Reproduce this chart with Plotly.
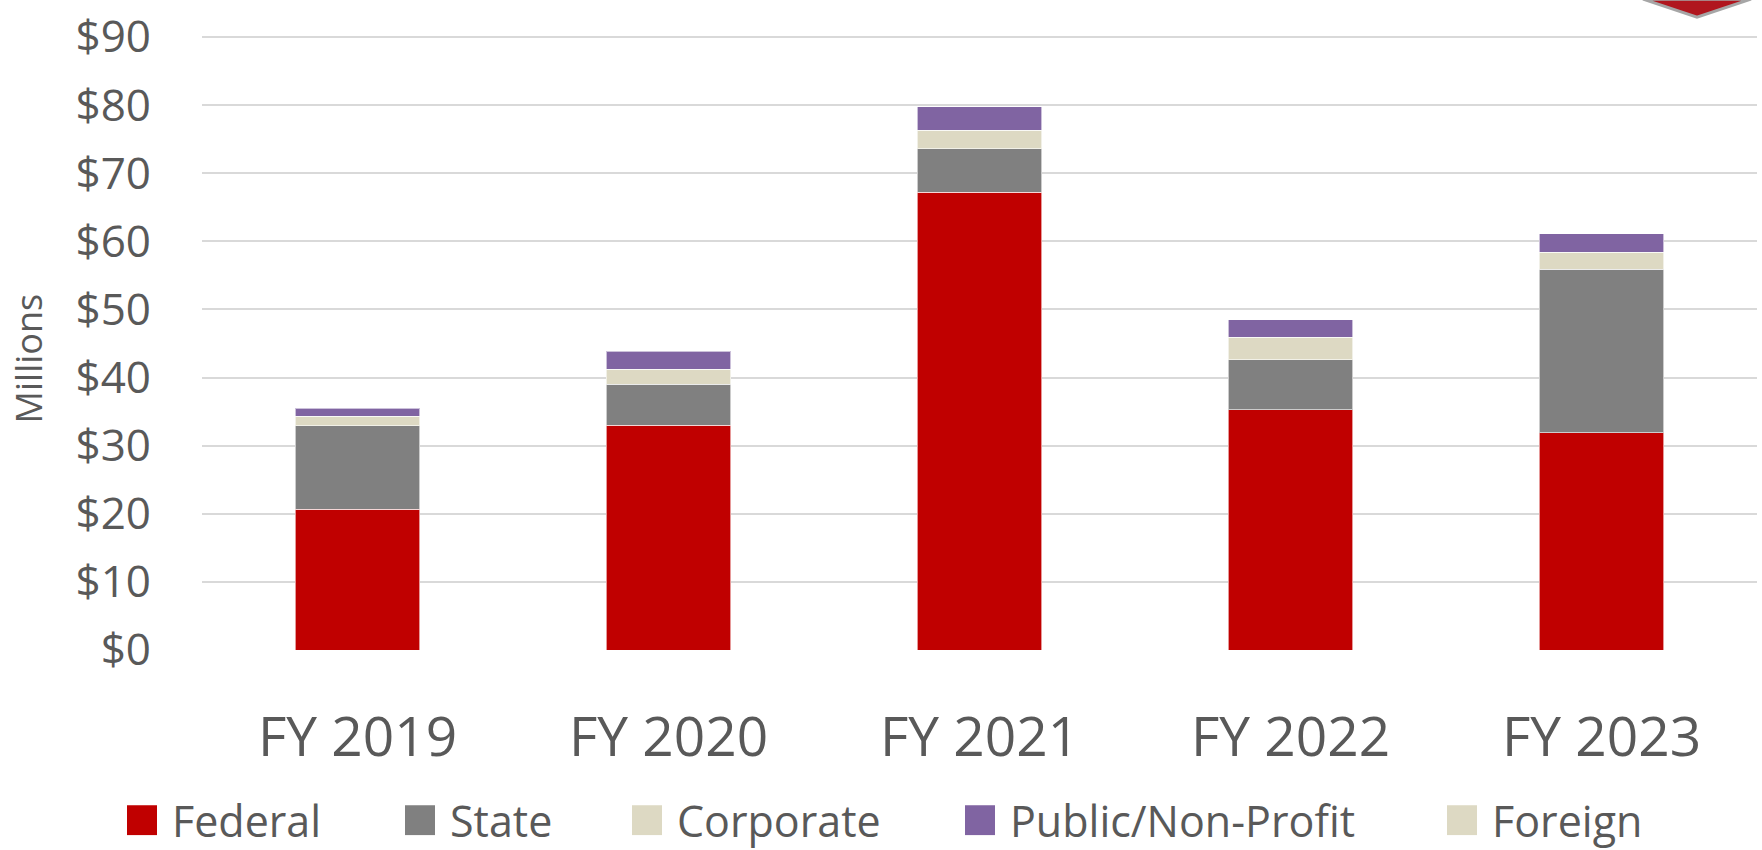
import plotly.graph_objects as go

# data ($ millions)
years = ['FY 2019', 'FY 2020', 'FY 2021', 'FY 2022', 'FY 2023']
federal = [20.7, 33.0, 67.2, 35.3, 31.9]
state = [12.2, 6.0, 6.4, 7.3, 24.0]
corporate = [1.4, 2.2, 2.7, 3.3, 2.5]
public_nonprofit = [1.2, 2.7, 3.5, 2.6, 2.7]
foreign = [0, 0, 0, 0, 0]

series_names = ['Federal', 'State', 'Corporate', 'Public/Non-Profit', 'Foreign']
series_values = [federal, state, corporate, public_nonprofit, foreign]
colors = ['#C00000', '#808080', '#DDD9C3', '#8064A2', '#DDD9C3']
tick_vals = [0, 10, 20, 30, 40, 50, 60, 70, 80, 90]
tick_text = ['$' + str(v) for v in tick_vals]

W, H = 1762, 850
L, R, T, B = 202, 5, 32, 200
TXT = '#595959'
FONT = 'Open Sans'


def px_x(x):
    return (x - L) / (W - L - R)


def px_y(y):
    return (H - B - y) / (H - T - B)


fig = go.Figure()
for name, vals, col in zip(series_names, series_values, colors):
    fig.add_trace(go.Bar(
        x=years, y=vals, name=name, marker_color=col,
        marker_line=dict(color='rgba(255,255,255,0.6)', width=0 if name == 'Foreign' else 1),
        showlegend=False,
    ))

# legend drawn by hand so the swatches can be as big as in the original
legend_x = [127, 405, 632, 965, 1447]
legend_y = 821
for name, col, lx in zip(series_names, colors, legend_x):
    fig.add_shape(type='rect', xref='paper', yref='paper',
                  x0=px_x(lx), x1=px_x(lx + 30), y0=px_y(legend_y + 15), y1=px_y(legend_y - 15),
                  fillcolor=col, line_width=0)
    fig.add_annotation(text=name, xref='paper', yref='paper', x=px_x(lx + 44), y=px_y(legend_y),
                       xanchor='left', yanchor='middle', showarrow=False, borderpad=0,
                       font=dict(family=FONT, size=43, color=TXT))

fig.add_annotation(text='Millions', textangle=-90, xref='paper', yref='paper',
                   x=px_x(28), y=px_y(357), xanchor='center', yanchor='middle', showarrow=False,
                   font=dict(family=FONT, size=36, color=TXT))

# bit of logo peeking in at the top right
fig.add_shape(type='path', xref='paper', yref='paper',
              path='M %f,%f L %f,%f L %f,%f Z' % (px_x(1643), px_y(-4), px_x(1751), px_y(-4), px_x(1697), px_y(14)),
              fillcolor='#B0161E', line=dict(color='#A6A6A6', width=3))

fig.update_layout(
    barmode='stack', bargap=0.6,
    width=W, height=H,
    margin=dict(l=L, r=R, t=T, b=B),
    plot_bgcolor='white', paper_bgcolor='white',
    font=dict(family=FONT, color=TXT),
    xaxis=dict(tickfont=dict(size=55, color=TXT), showline=False, showgrid=False,
               ticks='', ticklabelstandoff=50),
    yaxis=dict(range=[0, 90.3], tickvals=tick_vals, ticktext=tick_text,
               tickfont=dict(size=44, color=TXT), showgrid=True, gridcolor='#D9D9D9', gridwidth=1.5,
               zeroline=False, showline=False, ticks='', ticklabelstandoff=50),
)

fig.write_html('out.html', config={'displayModeBar': False},
               post_script="document.body.style.margin='0';document.body.style.overflow='hidden';")
